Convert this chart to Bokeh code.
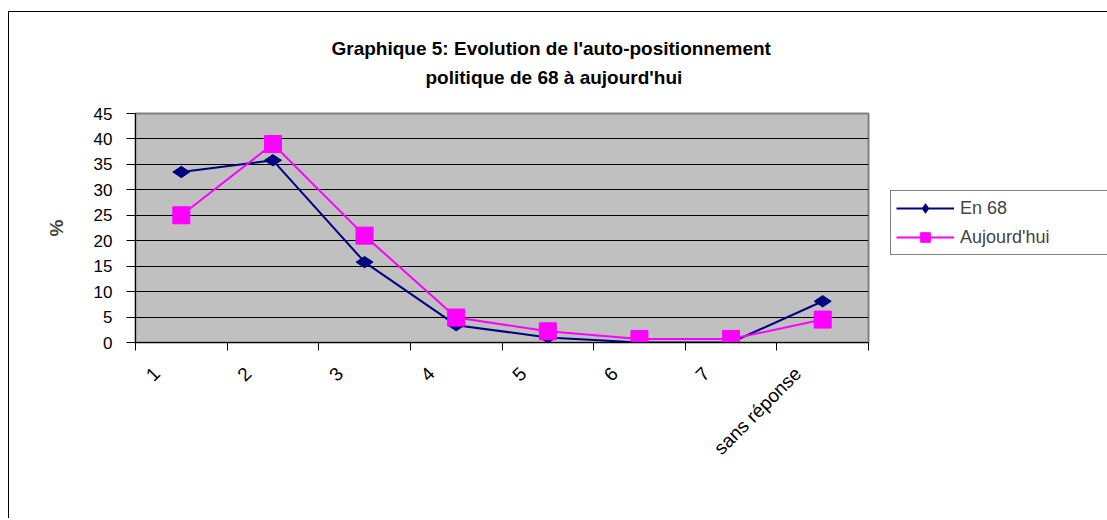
import math
from bokeh.plotting import figure
from bokeh.models import (Range1d, FixedTicker, CustomJSTickFormatter, Legend,
                          LegendItem, Title)
from bokeh.embed import file_html
from bokeh.resources import INLINE

categories = ["1", "2", "3", "4", "5", "6", "7", "sans réponse"]
en_68 = [33.5, 35.8, 15.8, 3.4, 1.0, 0.0, 0.0, 8.1]
aujourdhui = [25.0, 39.0, 21.0, 4.9, 2.2, 0.7, 0.7, 4.5]
y_ticks = [0, 5, 10, 15, 20, 25, 30, 35, 40, 45]
series_names = ["En 68", "Aujourd'hui"]
title_lines = ["Graphique 5: Evolution de l'auto-positionnement",
               "politique de 68 à aujourd'hui"]
y_label = "%"

FONT = "Liberation Sans"

x_pos = [i + 0.5 for i in range(len(categories))]
bounds = list(range(len(categories) + 1))
label_pos = [i + 0.23 for i in range(len(categories))]

p = figure(frame_width=733, frame_height=229,
           min_border_left=126, min_border_top=101,
           min_border_right=234, min_border_bottom=176,
           x_range=Range1d(0, len(categories)), y_range=Range1d(0, 45),
           output_backend="svg", toolbar_location=None,
           background_fill_color="#C0C0C0", border_fill_color="white")
p.styles = {"margin-left": "8px", "margin-top": "11px",
            "border-left": "1px solid #000", "border-top": "1px solid #000",
            "border-right": "1px solid #000"}
p.outline_line_color = "#808080"
p.outline_line_width = 2

# x axis: ticks at category boundaries (minor), labels near category centres
xa = p.xaxis[0]
xa.ticker = FixedTicker(ticks=label_pos, minor_ticks=bounds)
xa.formatter = CustomJSTickFormatter(args=dict(labels=categories),
                                     code="const i = Math.floor(tick); return (i >= 0 && i < labels.length) ? labels[i] : '';")
xa.major_tick_line_color = None
xa.minor_tick_line_color = "black"
xa.minor_tick_out = 8
xa.minor_tick_in = 0
xa.axis_line_color = "black"
xa.axis_line_width = 1
xa.major_label_orientation = math.pi / 4
xa.major_label_standoff = 20
xa.major_label_text_font = FONT
xa.major_label_text_font_size = "19px"
xa.major_label_text_color = "black"

ya = p.yaxis[0]
ya.ticker = FixedTicker(ticks=y_ticks)
ya.minor_tick_line_color = None
ya.major_tick_out = 9
ya.major_tick_in = 0
ya.major_tick_line_color = "black"
ya.axis_line_color = "black"
ya.major_label_standoff = 14
ya.major_label_text_font = FONT
ya.major_label_text_font_size = "17px"
ya.major_label_text_color = "black"
ya.axis_label = y_label
ya.axis_label_text_font = FONT
ya.axis_label_text_font_size = "19px"
ya.axis_label_text_font_style = "bold"
ya.axis_label_standoff = 24

p.xgrid.grid_line_color = None
p.ygrid.ticker = FixedTicker(ticks=y_ticks)
p.ygrid.grid_line_color = "black"
p.ygrid.grid_line_width = 1

l1 = p.line(x_pos, en_68, line_color="#000080", line_width=2)
s1 = p.scatter(x_pos, en_68, marker="diamond", size=17, angle=math.pi / 2,
               fill_color="#000080", line_color="#000080")
l2 = p.line(x_pos, aujourdhui, line_color="#FF00FF", line_width=2)
s2 = p.scatter(x_pos, aujourdhui, marker="square", size=17,
               fill_color="#FF00FF", line_color="#FF00FF")

legend = Legend(items=[LegendItem(label=series_names[0], renderers=[l1, s1]),
                       LegendItem(label=series_names[1], renderers=[l2, s2])],
                location=(22, 87), orientation="vertical")
legend.border_line_color = "black"
legend.border_line_width = 1
legend.background_fill_color = "white"
legend.background_fill_alpha = 1
legend.label_text_font = FONT
legend.label_text_font_size = "18px"
legend.glyph_width = 58
legend.glyph_height = 24
legend.label_standoff = 6
legend.label_width = 150
legend.spacing = 5
legend.padding = 5
legend.margin = 0
p.add_layout(legend, "right")

# two-line title, each line centred over the whole chart
t2 = Title(text=title_lines[1], align="left", offset=290, standoff=51,
           text_font=FONT, text_font_size="19px", text_font_style="bold",
           text_color="black")
t1 = Title(text=title_lines[0], align="left", offset=196, standoff=-39,
           text_font=FONT, text_font_size="19px", text_font_style="bold",
           text_color="black")
p.add_layout(t2, "above")
p.add_layout(t1, "above")

open("out.html", "w").write(file_html(p, INLINE))
